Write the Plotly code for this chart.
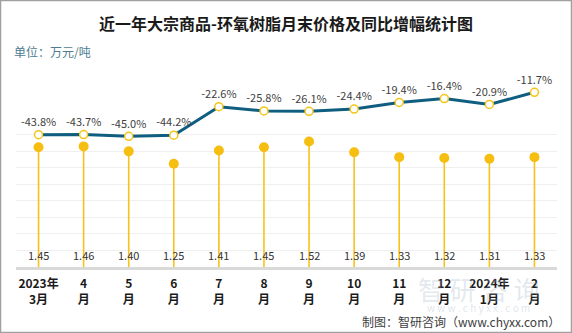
import plotly.graph_objects as go

months = ["2023年<br>3月", "4<br>月", "5<br>月", "6<br>月", "7<br>月", "8<br>月",
          "9<br>月", "10<br>月", "11<br>月", "12<br>月", "2024年<br>1月", "2<br>月"]
price = [1.45, 1.46, 1.40, 1.25, 1.41, 1.45, 1.52, 1.39, 1.33, 1.32, 1.31, 1.33]
yoy = [-43.8, -43.7, -45.0, -44.2, -22.6, -25.8, -26.1, -24.4, -19.4, -16.4, -20.9, -11.7]

FONT = "Noto Sans CJK SC, Microsoft YaHei, sans-serif"
W, H = 572, 333
ML, MR, MT, MB = 16, 15, 70, 66

fig = go.Figure()

# stems
sx, sy = [], []
for m, p in zip(months, price):
    sx += [m, m, None]
    sy += [0, p, None]
fig.add_trace(go.Scatter(x=sx, y=sy, mode="lines", line=dict(color="#f7c21a", width=1.6),
                         hoverinfo="skip", showlegend=False))
# dots
fig.add_trace(go.Scatter(x=months, y=price, mode="markers",
                         marker=dict(color="#f7be12", size=10, line=dict(width=0)),
                         showlegend=False))
# line on secondary axis
fig.add_trace(go.Scatter(x=months, y=yoy, yaxis="y2", mode="lines+markers+text",
                         line=dict(color="#0f5e80", width=3),
                         marker=dict(color="white", size=8, line=dict(color="#f5c518", width=1.5)),
                         text=[f"{v:.1f}%" for v in yoy], textposition="top center",
                         textfont=dict(family=FONT, size=11, color="#404040"),
                         showlegend=False))

annotations = []
for m, p in zip(months, price):
    annotations.append(dict(x=m, y=0.14, xref="x", yref="y", text=f"{p:.2f}", showarrow=False,
                            font=dict(family=FONT, size=11, color="#333333")))

pw, ph = W - ML - MR, H - MT - MB
def px(x):
    return (x - ML) / pw
def py(y):
    return (H - MB - y) / ph

annotations += [
    dict(x=px(286), y=py(23), xref="paper", yref="paper", text="<b>近一年大宗商品-环氧树脂月末价格及同比增幅统计图</b>",
         showarrow=False, font=dict(family=FONT, size=16, color="#1a1a1a"), xanchor="center", yanchor="middle"),
    dict(x=px(12), y=py(52), xref="paper", yref="paper", text="单位：万元/吨",
         showarrow=False, font=dict(family=FONT, size=12, color="#4d7c8f"), xanchor="left", yanchor="middle"),
    dict(x=px(478), y=py(288), xref="paper", yref="paper", text="智 研 咨 询",
         showarrow=False, font=dict(family=FONT, size=26, color="rgba(160,178,196,0.3)"), xanchor="center", yanchor="middle"),
    dict(x=px(478), y=py(307), xref="paper", yref="paper", text="w w w . c h y x x . c o m",
         showarrow=False, font=dict(family=FONT, size=10, color="rgba(160,178,196,0.35)"), xanchor="center", yanchor="middle"),
    dict(x=px(562), y=py(321), xref="paper", yref="paper", text="制图：智研咨询（www.chyxx.com）",
         showarrow=False, font=dict(family=FONT, size=12, color="#404040"), xanchor="right", yanchor="middle"),
]

shapes = [dict(type="rect", xref="paper", yref="paper", x0=px(0.5), x1=px(W - 0.5), y0=py(0.5), y1=py(H - 0.5),
               line=dict(color="#a0a0a0", width=1.5), layer="above")]

fig.update_layout(
    width=W, height=H, margin=dict(l=ML, r=MR, t=MT, b=MB),
    paper_bgcolor="white", plot_bgcolor="white",
    xaxis=dict(type="category", range=[-0.5, len(months) - 0.5], showline=True, linecolor="#d9d9d9",
               linewidth=2.5, ticks="", ticklabelstandoff=4,
               tickfont=dict(family=FONT, size=12, color="#1a1a1a", weight="bold"), showgrid=False),
    yaxis=dict(range=[0, 2.385], tickvals=[0.2, 0.4, 0.6, 0.8, 1.0, 1.2, 1.4, 1.6], showticklabels=False,
               gridcolor="#efefef", gridwidth=1, zeroline=False),
    yaxis2=dict(range=[-144, 5.2], overlaying="y", showgrid=False, showticklabels=False, zeroline=False),
    annotations=annotations, shapes=shapes,
)

fig.write_html("out.html")
